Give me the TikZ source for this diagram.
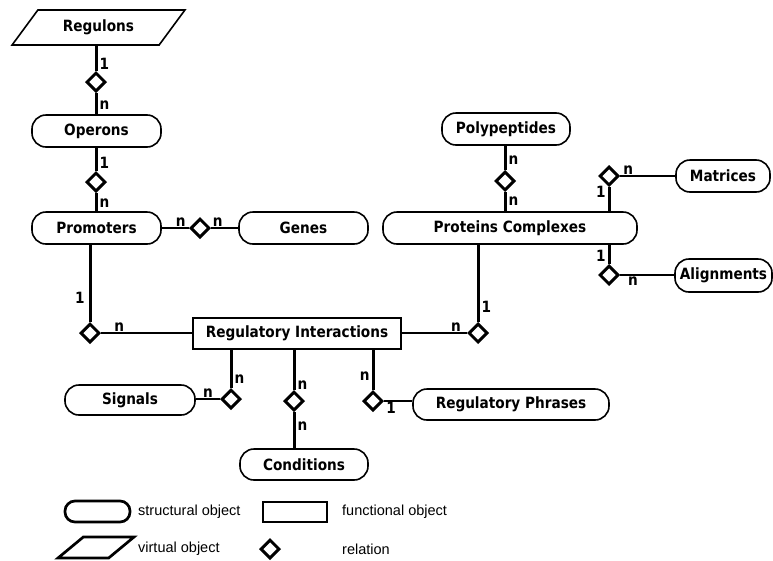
\documentclass[tikz,border=0pt]{standalone}
\usepackage{fontspec}
\setmainfont{Liberation Sans}
\newfontfamily\erfamily{DejaVu Sans}[FakeStretch=0.88]
\newcommand{\erlabelfont}{\erfamily\bfseries\fontsize{15.5}{17}\selectfont}
\newcommand{\legendfont}{\fontsize{14.5}{17}\selectfont}
\usetikzlibrary{shapes,positioning}

\begin{document}
\begin{tikzpicture}[x=1pt,y=-1pt]
    \tikzstyle{structural} = [rectangle, draw, rounded corners=14pt,
      line width=1.6pt, minimum height=32pt, inner sep=0pt, font=\erlabelfont]
    \tikzstyle{functional} = [rectangle, draw, line width=2pt,
      minimum height=31pt, inner sep=0pt, font=\erlabelfont]
    \tikzstyle{virtual} = [trapezium, trapezium left angle=45,
      trapezium right angle=135, trapezium stretches=true, draw,
      line width=1.6pt, inner sep=0pt, font=\erlabelfont]
    \tikzstyle{relation} = [diamond, draw, line width=3pt, inner sep=0pt,
      minimum size=19pt]
    \tikzstyle{link} = [draw, line width=3pt]
    \tikzstyle{hlink} = [draw, line width=1.3pt]
    \tikzstyle{card} = [font=\erlabelfont, inner sep=1pt]
    \tikzstyle{legend} = [font=\legendfont, inner sep=0pt, anchor=west]

    \useasboundingbox (0,0) rectangle (773,560);

    % Objects
    \node[virtual, minimum width=173pt, minimum height=35pt] (regulons) at (98.5,27.5) {Regulons};
    \node[structural, minimum width=129pt] (operons) at (96.5,131) {Operons};
    \node[structural, minimum width=129pt] (promoters) at (96.5,228) {Promoters};
    \node[structural, minimum width=129pt] (genes) at (303.5,228) {Genes};
    \node[structural, minimum width=128pt] (polypeptides) at (506,129) {Polypeptides};
    \node[structural, minimum width=254pt] (proteins) at (510,228) {Proteins Complexes};
    \node[structural, minimum width=94pt] (matrices) at (723,176) {Matrices};
    \node[structural, minimum width=97pt, minimum height=33pt] (alignments) at (723.5,275.5) {Alignments};
    \node[functional, minimum width=208pt] (interactions) at (297,333) {Regulatory Interactions};
    \node[structural, minimum width=130pt, minimum height=30pt] (signals) at (130,400) {Signals};
    \node[structural, minimum width=128pt, minimum height=31pt] (conditions) at (304,464.5) {Conditions};
    \node[structural, minimum width=196pt, minimum height=31pt] (phrases) at (511,404.5) {Regulatory Phrases};

    % Relations
    \node[relation] (regop) at (96,82) {};
    \node[relation] (oppro) at (96,182) {};
    \node[relation] (progen) at (200,228) {};
    \node[relation] (prori) at (90,333) {};
    \node[relation] (polpro) at (505,181) {};
    \node[relation] (promat) at (609,176) {};
    \node[relation] (proali) at (609,275) {};
    \node[relation] (protri) at (478,333) {};
    \node[relation] (sigri) at (231,399) {};
    \node[relation] (condri) at (294,401) {};
    \node[relation] (phrri) at (373,401) {};

    % Connectors with cardinalities
    \draw[link] (regulons.south -| regop) -- node[card, right=1pt, pos=0.72] {1} (regop.north);
    \draw[link] (regop.south) -- node[card, right=1pt, pos=0.57] {n} (operons.north -| regop);
    \draw[link] (operons.south -| oppro) -- node[card, right=1pt, pos=0.63] {1} (oppro.north);
    \draw[link] (oppro.south) -- node[card, right=1pt, pos=0.56] {n} (promoters.north -| oppro);

    \draw[hlink] (promoters.east) -- node[card, above=0pt, pos=0.7] {n} (progen.west);
    \draw[hlink] (progen.east) -- node[card, above=0pt, pos=0.25] {n} (genes.west);

    \draw[link] (promoters.south -| prori) -- node[card, left=3pt, pos=0.69] {1} (prori.north);
    \draw[hlink] (prori.east) -- node[card, above=0pt, pos=0.2] {n} (interactions.west |- prori);

    \draw[link] (polypeptides.south -| polpro) -- node[card, right=1pt, pos=0.6] {n} (polpro.north);
    \draw[link] (polpro.south) -- node[card, right=1pt, pos=0.49] {n} (proteins.north -| polpro);

    \draw[link] (proteins.north -| promat) -- node[card, left=1pt, pos=0.8] {1} (promat.south);
    \draw[hlink] (promat.east) -- node[card, above=0pt, pos=0.15] {n} (matrices.west |- promat);

    \draw[link] (proteins.south -| proali) -- node[card, left=1pt, pos=0.6] {1} (proali.north);
    \draw[hlink] (proali.east) -- node[card, below=0pt, pos=0.24] {n} (alignments.west |- proali);

    \draw[link] (proteins.south -| protri) -- node[card, right=1pt, pos=0.8] {1} (protri.north);
    \draw[hlink] (interactions.east |- protri) -- node[card, above=0pt, pos=0.83] {n} (protri.west);

    \draw[link] (interactions.south -| sigri) -- node[card, right=1pt, pos=0.77] {n} (sigri.north);
    \draw[hlink] (sigri.west) -- node[card, above=0pt, pos=0.5] {n} (signals.east |- sigri);

    \draw[link] (interactions.south -| condri) -- node[card, right=1pt, pos=0.88] {n} (condri.north);
    \draw[link] (condri.south) -- node[card, right=1pt, pos=0.38] {n} (conditions.north -| condri);

    \draw[link] (interactions.south -| phrri) -- node[card, left=1pt, pos=0.67] {n} (phrri.north);
    \draw[hlink] (phrri.east) -- node[card, below=0pt, pos=0.25] {1} (phrases.west |- phrri);

    % Legend
    \node[structural, minimum width=65pt, minimum height=21pt, rounded corners=10pt, line width=2.7pt] (legstruct) at (97.5,511.5) {};
    \node[legend] (legstructtxt) at (138,512) {structural object};
    \node[functional, minimum width=64pt, minimum height=20pt, line width=2.7pt] (legfunc) at (295,512) {};
    \node[legend] (legfunctxt) at (342,512) {functional object};
    \node[virtual, minimum width=76pt, minimum height=21pt, inner sep=1pt, line width=2.7pt] (legvirt) at (96,547.5) {};
    \node[legend] (legvirttxt) at (138,549) {virtual object};
    \node[relation] (legrel) at (270,549) {};
    \node[legend] (legreltxt) at (342,549) {relation};
\end{tikzpicture}
\end{document}
